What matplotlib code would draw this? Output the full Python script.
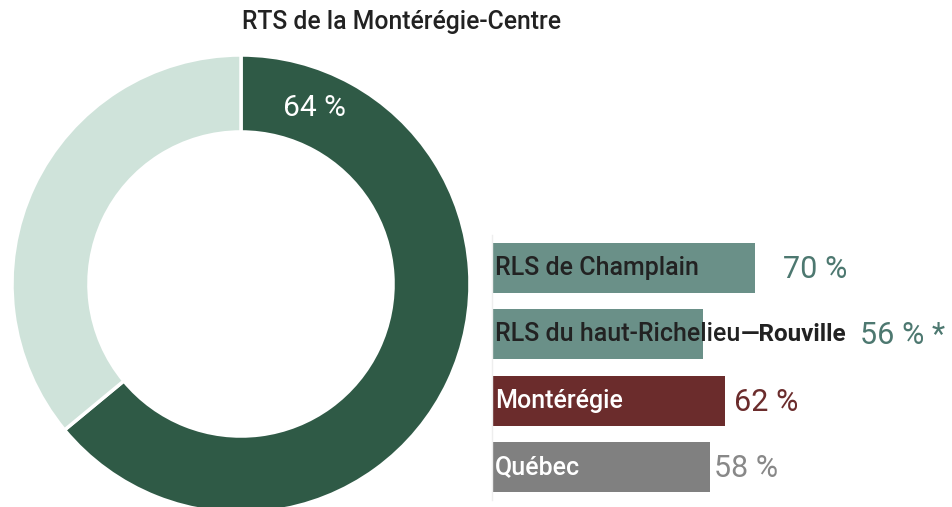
import matplotlib.pyplot as plt

plt.rcParams['font.family'] = ['Roboto', 'DejaVu Sans']
plt.rcParams['font.weight'] = 'medium'

# Donut data
rts_title = "RTS de la Montérégie-Centre"
rts_values = [64, 36]
rts_label = "64 %"

# Bar data
regions = ["RLS de Champlain", "RLS du haut-Richelieu", "Montérégie", "Québec"]
region_suffix = ["", "—Rouville", "", ""]
values = [70, 56, 62, 58]
value_labels = ["70 %", "56 % *", "62 %", "58 %"]

bar_colors = ["#6a9088", "#6a9088", "#6b2c2c", "#808080"]
name_colors = ["#222222", "#222222", "white", "white"]
value_colors = ["#4d7870", "#4d7870", "#6b2c2c", "#888888"]

fig = plt.figure(figsize=(9.53, 5.07), dpi=100)

# --- Donut ---
ax_d = fig.add_axes([12/953, -6/507, 458/953, 458/507])
ax_d.pie(rts_values, colors=["#2f5a46", "#cfe3da"], startangle=90,
         counterclock=False, radius=1,
         wedgeprops=dict(width=0.336, edgecolor="white", linewidth=2.5))
ax_d.set_xlim(-1, 1)
ax_d.set_ylim(-1, 1)
ax_d.set_aspect("equal")
ax_d.axis("off")
ax_d.text(0.32, 0.768, rts_label, color="white", fontsize=21.5,
          fontweight="normal", ha="center", va="center")

fig.text(402/953, 1 - 22/507, rts_title, fontsize=17.8, color="#222222",
         ha="center", va="center")

# --- Bars ---
ax_b = fig.add_axes([492/953, 7/507, 376/953, 265/507])
ypos = list(range(len(regions)))
ax_b.barh(ypos, values, height=0.754, color=bar_colors)
ax_b.set_xlim(0, 100)
ax_b.set_ylim(3.5, -0.5)
for s in ["top", "right", "bottom"]:
    ax_b.spines[s].set_visible(False)
ax_b.spines["left"].set_color("#eeeeee")
ax_b.spines["left"].set_linewidth(1)
ax_b.set_xticks([])
ax_b.set_yticks([])
ax_b.patch.set_alpha(0)

value_pad = [28, 0, 9, 4]
for i, (name, suf, v, lab) in enumerate(zip(regions, region_suffix, values, value_labels)):
    t = ax_b.text(0.8, i, name, color=name_colors[i], fontsize=18,
                  ha="left", va="center")
    anchor = None
    if suf:
        anchor = ax_b.annotate(suf, xy=(1, 0.5), xycoords=t, xytext=(0, 0),
                               textcoords="offset points", fontsize=17.5,
                               fontweight="bold", color="#222222",
                               ha="left", va="center")
    if anchor is not None:
        ax_b.annotate(lab, xy=(1, 0.5), xycoords=anchor, xytext=(10, -1),
                      textcoords="offset points", fontsize=22,
                      fontweight="normal", color=value_colors[i],
                      ha="left", va="center")
    else:
        ax_b.annotate(lab, xy=(v, i), xytext=(value_pad[i] * 0.72, -1),
                      textcoords="offset points", fontsize=22,
                      fontweight="normal", color=value_colors[i],
                      ha="left", va="center")

plt.savefig("out.png", dpi=100)
